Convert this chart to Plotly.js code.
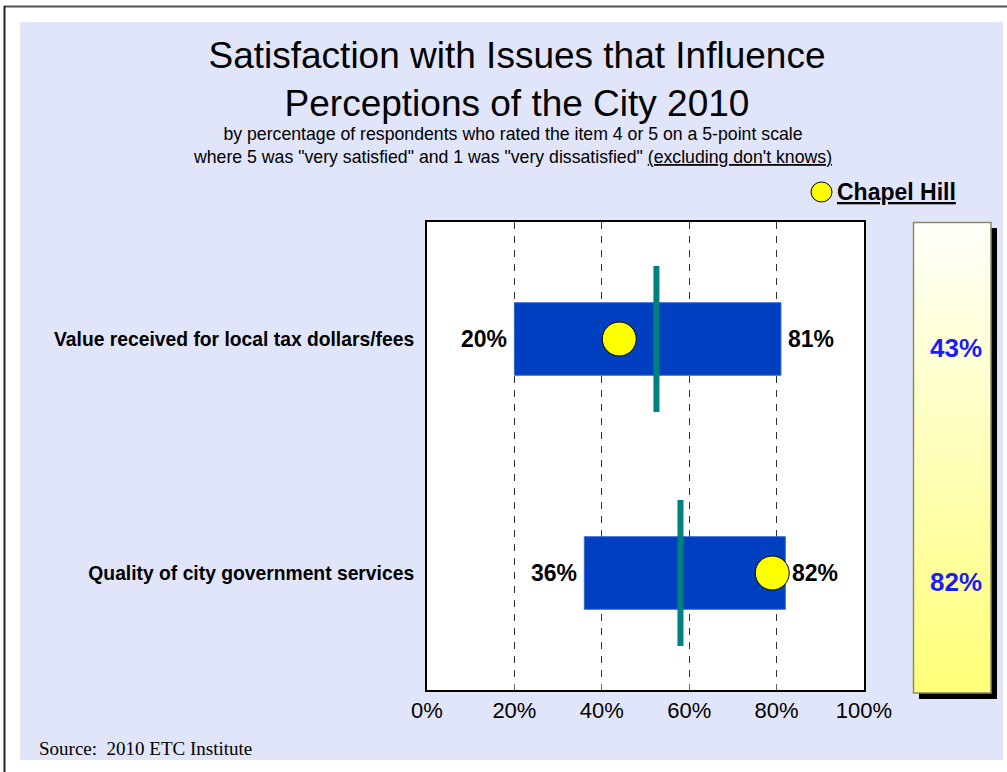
<!DOCTYPE html>
<html>
<head>
<meta charset="utf-8">
<script src="https://cdn.plot.ly/plotly-3.0.1.min.js"></script>
<style>html,body{margin:0;padding:0;background:#fff;}#chart{width:1007px;height:772px;}</style>
</head>
<body>
<div id="chart"></div>
<script>
// ---- data ----
var categories = ['Value received for local tax dollars/fees', 'Quality of city government services'];
var lowValues = [20, 36];
var highValues = [81, 82];
var meanValues = [52.5, 58];
var chapelHillDot = [44, 79];
var chapelHillValues = [43, 82];
var xTickVals = [0, 20, 40, 60, 80, 100];
var xTickLabels = ['0%', '20%', '40%', '60%', '80%', '100%'];

// ---- helpers (pixel -> paper) ----
var L = 427, R = 864, T = 222, B = 690;
function px(x) { return (x - L) / (R - L); }
function py(y) { return (B - y) / (B - T); }

var yIdx = categories.map(function (c, i) { return i; });
var lineHalf = 0.312;

var teal = { x: [], y: [] };
meanValues.forEach(function (m, i) {
  teal.x.push(m, m, null);
  teal.y.push(i - lineHalf, i + lineHalf, null);
});

var traces = [
  {
    type: 'bar', orientation: 'h',
    y: yIdx,
    base: lowValues,
    x: highValues.map(function (h, i) { return h - lowValues[i]; }),
    width: 0.31,
    marker: { color: '#0040C0', line: { color: '#3A66D6', width: 1 } },
    hoverinfo: 'skip', showlegend: false
  },
  {
    type: 'scatter', mode: 'lines',
    x: teal.x, y: teal.y,
    line: { color: '#008080', width: 6 },
    hoverinfo: 'skip', showlegend: false
  },
  {
    type: 'scatter', mode: 'markers',
    x: chapelHillDot, y: yIdx,
    marker: { color: '#FFFF00', size: 34, line: { color: '#000', width: 1 } },
    hoverinfo: 'skip', showlegend: false, cliponaxis: false
  }
];

var annotations = [];
lowValues.forEach(function (v, i) {
  annotations.push({ x: v, y: i, xref: 'x', yref: 'y', text: '<b>' + v + '%</b>', showarrow: false,
    xanchor: 'right', xshift: -5, font: { family: 'Arial, Liberation Sans', size: 23, color: '#000' } });
});
highValues.forEach(function (v, i) {
  annotations.push({ x: v, y: i, xref: 'x', yref: 'y', text: '<b>' + v + '%</b>', showarrow: false,
    xanchor: 'left', xshift: 5, font: { family: 'Arial, Liberation Sans', size: 23, color: '#000' } });
});
chapelHillValues.forEach(function (v, i) {
  annotations.push({ x: px(956), y: i, xref: 'paper', yref: 'y', text: '<b>' + v + '%</b>', showarrow: false,
    xanchor: 'center', yshift: -9, font: { family: 'Arial, Liberation Sans', size: 26, color: '#1C1CF8' } });
});
annotations.push({
  x: px(512), y: py(146), xref: 'paper', yref: 'paper', showarrow: false,
  xanchor: 'center', yanchor: 'middle',
  text: 'by percentage of respondents who rated the item 4 or 5 on a 5-point scale<br>where 5 was "very satisfied" and 1 was "very dissatisfied" <span style="text-decoration:underline">(excluding don\'t knows)</span>',
  font: { family: 'Arial, Liberation Sans', size: 17.7, color: '#000' }
});
annotations.push({
  x: px(835), y: py(192), xref: 'paper', yref: 'paper', showarrow: false,
  xanchor: 'left', yanchor: 'middle',
  text: '<b><span style="text-decoration:underline">Chapel Hill</span></b>',
  font: { family: 'Arial, Liberation Sans', size: 23, color: '#000' }
});
annotations.push({
  x: px(37), y: py(748), xref: 'paper', yref: 'paper', showarrow: false,
  xanchor: 'left', yanchor: 'middle',
  text: 'Source:  2010 ETC Institute',
  font: { family: 'Liberation Serif, Times New Roman', size: 19, color: '#000' }
});

var shapes = [
  // lavender background
  { type: 'rect', xref: 'paper', yref: 'paper', x0: px(20), x1: px(1003), y0: py(760), y1: py(22),
    fillcolor: '#E0E5FA', line: { width: 0 }, layer: 'below' },
  // plot area white
  { type: 'rect', xref: 'paper', yref: 'paper', x0: 0, x1: 1, y0: 0, y1: 1,
    fillcolor: '#FFFFFF', line: { width: 0 }, layer: 'below' },
  // page border lines
  { type: 'line', xref: 'paper', yref: 'paper', x0: px(4), x1: px(1007), y0: py(6.5), y1: py(6.5),
    line: { color: '#555', width: 2 } },
  { type: 'line', xref: 'paper', yref: 'paper', x0: px(4.5), x1: px(4.5), y0: py(6), y1: py(772),
    line: { color: '#222', width: 2 } },
  // panel shadow
  { type: 'rect', xref: 'paper', yref: 'paper', x0: px(919), x1: px(997), y0: py(699), y1: py(228),
    fillcolor: '#000', line: { width: 0 }, layer: 'below' },
  // panel border
  { type: 'rect', xref: 'paper', yref: 'paper', x0: px(913.5), x1: px(991), y0: py(693), y1: py(222.5),
    fillcolor: 'rgba(0,0,0,0)', line: { color: '#8A8A6A', width: 1.5 } },
  // legend circle
  { type: 'circle', xref: 'paper', yref: 'paper', x0: px(811), x1: px(832), y0: py(202), y1: py(182),
    fillcolor: '#FFFF00', line: { color: '#000', width: 1 } }
];

var gradSvg = "<svg xmlns='http://www.w3.org/2000/svg' width='78' height='471' viewBox='0 0 78 471' preserveAspectRatio='none'>" +
  "<defs><linearGradient id='g' x1='0' y1='0' x2='0' y2='1'><stop offset='0' stop-color='#FFFFFA'/><stop offset='1' stop-color='#FFFF78'/></linearGradient></defs>" +
  "<rect x='0' y='0' width='78' height='471' fill='url(#g)'/></svg>";

var layout = {
  width: 1007, height: 772,
  margin: { l: L, r: 1007 - R, t: T, b: 772 - B, pad: 0 },
  paper_bgcolor: '#FFFFFF', plot_bgcolor: '#FFFFFF',
  font: { family: 'Arial, Liberation Sans', color: '#000' },
  title: {
    text: 'Satisfaction with Issues that Influence<br>Perceptions of the City 2010',
    font: { family: 'Arial, Liberation Sans', size: 37, color: '#000' },
    x: 517 / 1007, xanchor: 'center', xref: 'container',
    y: 1 - 68 / 772, yanchor: 'middle', yref: 'container'
  },
  xaxis: {
    range: [0, 100], tickvals: xTickVals, ticktext: xTickLabels,
    showgrid: true, gridcolor: '#333', gridwidth: 1, griddash: '7px,7px',
    zeroline: false, showline: true, linecolor: '#000', linewidth: 2, mirror: true,
    ticks: 'inside', ticklen: 6, tickcolor: '#666', tickwidth: 1,
    tickfont: { family: 'Arial, Liberation Sans', size: 22, color: '#000' },
    fixedrange: true
  },
  yaxis: {
    range: [1.5, -0.5], tickvals: yIdx,
    ticktext: categories.map(function (c) { return '<b>' + c + '</b>'; }),
    showgrid: false, zeroline: false, showline: true, linecolor: '#000', linewidth: 2, mirror: true,
    ticks: '', ticklabelstandoff: 7,
    tickfont: { family: 'Arial, Liberation Sans', size: 19.3, color: '#000' },
    fixedrange: true
  },
  shapes: shapes,
  annotations: annotations,
  images: [{
    source: 'data:image/svg+xml;charset=utf-8,' + encodeURIComponent(gradSvg),
    xref: 'paper', yref: 'paper', x: px(913.5), y: py(222.5),
    sizex: px(991) - px(913.5), sizey: py(222.5) - py(693),
    xanchor: 'left', yanchor: 'top', sizing: 'stretch', layer: 'above'
  }],
  showlegend: false,
  hovermode: false
};

Plotly.newPlot('chart', traces, layout, { displayModeBar: false, staticPlot: true });
</script>
</body>
</html>
